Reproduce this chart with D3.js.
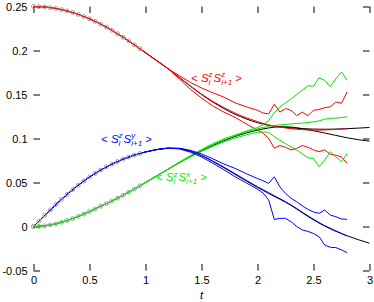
<!DOCTYPE html>
<html>
<head>
<meta charset="utf-8">
<script src="https://d3js.org/d3.v7.min.js"></script>
<style>
  body { margin: 0; background: #fff; }
  text { font-family: "Liberation Sans", Arial, sans-serif; }
</style>
</head>
<body>
<div id="svg-area"></div>
<script>

// exact curves (black). dense grid up to t=1, that's where the circles sit
const tExact = [0, 0.05, 0.1, 0.15, 0.2, 0.25, 0.3, 0.35, 0.4, 0.45, 0.5, 0.55, 0.6, 0.65, 0.7, 0.75, 0.8, 0.85, 0.9, 0.95, 1.0,
  1.1, 1.2, 1.3, 1.4, 1.5, 1.6, 1.7, 1.8, 1.9, 2.0, 2.1, 2.2, 2.3, 2.4, 2.5, 2.6, 2.7, 2.8, 2.9, 3.0]
const zzExact = [0.2500, 0.2499, 0.2495, 0.2488, 0.2478, 0.2465, 0.2450, 0.2432, 0.2410, 0.2386, 0.2360, 0.2331, 0.2300, 0.2266, 0.2230, 0.2191, 0.2150, 0.2108, 0.2065, 0.2020, 0.1975,
  0.1885, 0.1795, 0.1695, 0.1595, 0.1500, 0.1415, 0.1340, 0.1275, 0.1222, 0.1180, 0.1150, 0.1132, 0.1120, 0.1112, 0.1107, 0.1105, 0.1107, 0.1112, 0.1118, 0.1125]
const zxExact = [0, 0.0002, 0.0008, 0.0018, 0.0030, 0.0048, 0.0068, 0.0090, 0.0115, 0.0142, 0.0170, 0.0199, 0.0230, 0.0260, 0.0290, 0.0322, 0.0355, 0.0390, 0.0425, 0.0462, 0.0500,
  0.0575, 0.0650, 0.0725, 0.0795, 0.0860, 0.0920, 0.0975, 0.1023, 0.1063, 0.1095, 0.1120, 0.1133, 0.1130, 0.1112, 0.1088, 0.1062, 0.1035, 0.1008, 0.0987, 0.0970]
const zyExact = [0, 0.0063, 0.0126, 0.0188, 0.0249, 0.0308, 0.0365, 0.0419, 0.0470, 0.0518, 0.0562, 0.0603, 0.0641, 0.0676, 0.0708, 0.0738, 0.0765, 0.0789, 0.0811, 0.0830, 0.0847,
  0.0874, 0.0890, 0.0886, 0.0856, 0.0805, 0.0740, 0.0668, 0.0592, 0.0517, 0.0445, 0.0375, 0.0310, 0.0240, 0.0155, 0.0075, 0.0005, -0.0055, -0.0105, -0.0150, -0.0190]

// circles only up to here
const tCircleMax = 0.95

// simulation runs, three per correlator
const tRun = [0, 0.1, 0.2, 0.3, 0.4, 0.5, 0.6, 0.7, 0.8, 0.9, 1.0, 1.1, 1.2, 1.3, 1.4, 1.5, 1.6, 1.7, 1.8, 1.9, 2.0,
  2.05, 2.1, 2.15, 2.2, 2.25, 2.3, 2.35, 2.4, 2.45, 2.5, 2.55, 2.6, 2.65, 2.7, 2.75, 2.8]

const zzRunA = [0.2500, 0.2495, 0.2478, 0.2450, 0.2410, 0.2360, 0.2300, 0.2230, 0.2150, 0.2065, 0.1975, 0.1885, 0.1795,
  0.1715, 0.1638, 0.1575, 0.1520, 0.1470, 0.1405, 0.1360, 0.1320,
  0.1290, 0.1280, 0.1390, 0.1300, 0.1340, 0.1320, 0.1260, 0.1300, 0.1260, 0.1320, 0.1330, 0.1350, 0.1360, 0.1415, 0.1400, 0.1530]
const zzRunB = [0.2500, 0.2495, 0.2478, 0.2450, 0.2410, 0.2360, 0.2300, 0.2230, 0.2150, 0.2065, 0.1975, 0.1885, 0.1795,
  0.1697, 0.1598, 0.1505, 0.1422, 0.1352, 0.1288, 0.1235, 0.1192,
  0.1172, 0.1155, 0.1140, 0.1130, 0.1120, 0.1112, 0.1105, 0.1100, 0.1098, 0.1095, 0.1095, 0.1097, 0.1100, 0.1103, 0.1106, 0.1110]
const zzRunC = [0.2500, 0.2495, 0.2478, 0.2450, 0.2410, 0.2360, 0.2300, 0.2230, 0.2150, 0.2065, 0.1975, 0.1885, 0.1795,
  0.1680, 0.1560, 0.1460, 0.1370, 0.1300, 0.1240, 0.1165, 0.1095,
  0.1060, 0.1000, 0.0890, 0.0920, 0.0900, 0.0870, 0.0887, 0.0920, 0.0900, 0.0870, 0.0850, 0.0870, 0.0820, 0.0810, 0.0790, 0.0717]

const zxRunA = [0, 0.0008, 0.0030, 0.0068, 0.0115, 0.0170, 0.0230, 0.0290, 0.0355, 0.0425, 0.0500, 0.0575, 0.0650,
  0.0730, 0.0805, 0.0875, 0.0940, 0.0995, 0.1040, 0.1085, 0.1125,
  0.1155, 0.1205, 0.1290, 0.1360, 0.1405, 0.1450, 0.1500, 0.1550, 0.1600, 0.1595, 0.1690, 0.1660, 0.1590, 0.1680, 0.1755, 0.1660]
const zxRunB = [0, 0.0008, 0.0030, 0.0068, 0.0115, 0.0170, 0.0230, 0.0290, 0.0355, 0.0425, 0.0500, 0.0575, 0.0650,
  0.0728, 0.0800, 0.0867, 0.0930, 0.0985, 0.1033, 0.1075, 0.1110,
  0.1125, 0.1138, 0.1148, 0.1155, 0.1160, 0.1165, 0.1170, 0.1175, 0.1182, 0.1190, 0.1200, 0.1220, 0.1228, 0.1232, 0.1238, 0.1245]
const zxRunC = [0, 0.0008, 0.0030, 0.0068, 0.0115, 0.0170, 0.0230, 0.0290, 0.0355, 0.0425, 0.0500, 0.0575, 0.0650,
  0.0722, 0.0790, 0.0852, 0.0910, 0.0962, 0.1005, 0.1042, 0.1070,
  0.1075, 0.1070, 0.1020, 0.0980, 0.0940, 0.0905, 0.0870, 0.0825, 0.0780, 0.0773, 0.0680, 0.0754, 0.0850, 0.0790, 0.0735, 0.0830]

const zyRunA = [0, 0.0126, 0.0249, 0.0365, 0.0470, 0.0562, 0.0641, 0.0708, 0.0765, 0.0811, 0.0847, 0.0874, 0.0890,
  0.0890, 0.0866, 0.0825, 0.0770, 0.0710, 0.0660, 0.0600, 0.0545,
  0.0520, 0.0490, 0.0565, 0.0450, 0.0376, 0.0320, 0.0281, 0.0235, 0.0195, 0.0165, 0.0150, 0.0187, 0.0130, 0.0111, 0.0085, 0.0082]
const zyRunB = [0, 0.0126, 0.0249, 0.0365, 0.0470, 0.0562, 0.0641, 0.0708, 0.0765, 0.0811, 0.0847, 0.0874, 0.0890,
  0.0886, 0.0857, 0.0808, 0.0745, 0.0675, 0.0600, 0.0525, 0.0452,
  0.0418, 0.0383, 0.0350, 0.0316, 0.0282, 0.0245, 0.0205, 0.0162, 0.0122, 0.0082, 0.0045, 0.0010, -0.0020, -0.0050, -0.0078, -0.0108]
const zyRunC = [0, 0.0126, 0.0249, 0.0365, 0.0470, 0.0562, 0.0641, 0.0708, 0.0765, 0.0811, 0.0847, 0.0874, 0.0890,
  0.0882, 0.0845, 0.0790, 0.0720, 0.0645, 0.0565, 0.0495, 0.0425,
  0.0380, 0.0300, 0.0080, 0.0093, 0.0093, 0.0054, 0.0000, -0.0040, -0.0055, -0.0080, -0.0116, -0.0210, -0.0236, -0.0240, -0.0266, -0.0297]

// ticks
const xTicks = [0, 0.5, 1, 1.5, 2, 2.5, 3]
const xTickLabels = ["0", "0.5", "1", "1.5", "2", "2.5", "3"]
const yTicks = [-0.05, 0, 0.05, 0.1, 0.15, 0.2, 0.25]
const yTickLabels = ["-0.05", "0", "0.05", "0.1", "0.15", "0.2", "0.25"]


// svg area
const svgWidth = 374
const svgHeight = 302

const margin = {
  top: 6.5,
  right: 4.5,
  bottom: 31.5,
  left: 33.5,
}

const chartWidth = svgWidth - margin.left - margin.right
const chartHeight = svgHeight - margin.top - margin.bottom

let svg = d3.select("#svg-area")
  .append("svg")
  .attr("width", svgWidth)
  .attr("height", svgHeight)

let chartGroup = svg.append("g")
  .attr("transform", `translate(${margin.left}, ${margin.top})`)

const x = d3.scaleLinear().domain([0, 3]).range([0, chartWidth])
const y = d3.scaleLinear().domain([-0.05, 0.25]).range([chartHeight, 0])

const fontFam = '"Liberation Sans", Arial, sans-serif'

// axes, ticks pointing inwards on all four sides
function styleAxis(g) {
  g.attr("font-size", 11).attr("font-family", fontFam)
  g.select(".domain").remove()
  g.selectAll("line").attr("stroke", "#000")
  g.selectAll("text").attr("fill", "#000")
}

chartGroup.append("g")
  .attr("transform", `translate(0, ${chartHeight})`)
  .call(d3.axisBottom(x).tickValues(xTicks).tickFormat((d, i) => xTickLabels[i]).tickSize(-6.5).tickPadding(6))
  .call(styleAxis)

chartGroup.append("g")
  .call(d3.axisLeft(y).tickValues(yTicks).tickFormat((d, i) => yTickLabels[i]).tickSize(-6.5).tickPadding(6))
  .call(styleAxis)

chartGroup.append("g")
  .call(d3.axisTop(x).tickValues(xTicks).tickFormat("").tickSize(-6.5))
  .call(styleAxis)

chartGroup.append("g")
  .attr("transform", `translate(${chartWidth}, 0)`)
  .call(d3.axisRight(y).tickValues(yTicks).tickFormat("").tickSize(-6.5))
  .call(styleAxis)

// x axis title
svg.append("text")
  .attr("x", margin.left + x(1.5))
  .attr("y", 299)
  .attr("text-anchor", "middle")
  .attr("font-style", "italic")
  .attr("font-size", 11)
  .text("t")


// lines
const smooth = d3.line().x(d => x(d[0])).y(d => y(d[1])).curve(d3.curveMonotoneX)
const jagged = d3.line().x(d => x(d[0])).y(d => y(d[1]))

const exactSets = [zzExact, zxExact, zyExact]
exactSets.forEach(vals => {
  chartGroup.append("path")
    .attr("d", smooth(tExact.map((t, i) => [t, vals[i]])))
    .attr("fill", "none")
    .attr("stroke", "#000")
    .attr("stroke-width", 1)
})

const runSets = [
  { color: "#ff0000", runs: [zzRunA, zzRunB, zzRunC] },
  { color: "#00e600", runs: [zxRunA, zxRunB, zxRunC] },
  { color: "#0000ff", runs: [zyRunA, zyRunB, zyRunC] },
]

runSets.forEach(s => {
  s.runs.forEach(vals => {
    chartGroup.append("path")
      .attr("d", jagged(tRun.map((t, i) => [t, vals[i]])))
      .attr("fill", "none")
      .attr("stroke", s.color)
      .attr("stroke-width", 1)
  })
})

// open grey circles on the early part of the exact curves
exactSets.forEach(vals => {
  let pts = tExact.map((t, i) => [t, vals[i]]).filter(p => p[0] <= tCircleMax + 1e-9)
  chartGroup.append("g")
    .selectAll("circle")
    .data(pts)
    .enter()
    .append("circle")
    .attr("cx", p => x(p[0]))
    .attr("cy", p => y(p[1]))
    .attr("r", 2)
    .attr("fill", "none")
    .attr("stroke", "#9a9a9a")
    .attr("stroke-width", 0.9)
})


// labels like < S_i^z S_{i+1}^a >, sub and sup stacked
function corrLabel(px, py, color, comp) {
  let g = svg.append("g")
    .attr("fill", color)
    .attr("font-style", "italic")
    .attr("font-family", fontFam)
  let cx = px
  const put = (str, dy, size) => {
    let t = g.append("text").attr("x", cx).attr("y", py + dy).attr("font-size", size).text(str)
    return t.node().getComputedTextLength()
  }
  cx += put("<", 0, 11) + 3.5
  cx += put("S", 0, 11.5)
  let w1 = put("z", -4.5, 8)
  let w2 = put("i", 3, 8)
  cx += Math.max(w1, w2) + 1
  cx += put("S", 0, 11.5)
  w1 = put(comp, -4.5, 8)
  w2 = put("i+1", 3, 8)
  cx += Math.max(w1, w2) + 3
  put(">", 0, 11)
}

corrLabel(191, 81.5, "#ff0000", "z")
corrLabel(101, 142.5, "#0000ff", "y")
corrLabel(156, 181, "#00e600", "x")

</script>
</body>
</html>
